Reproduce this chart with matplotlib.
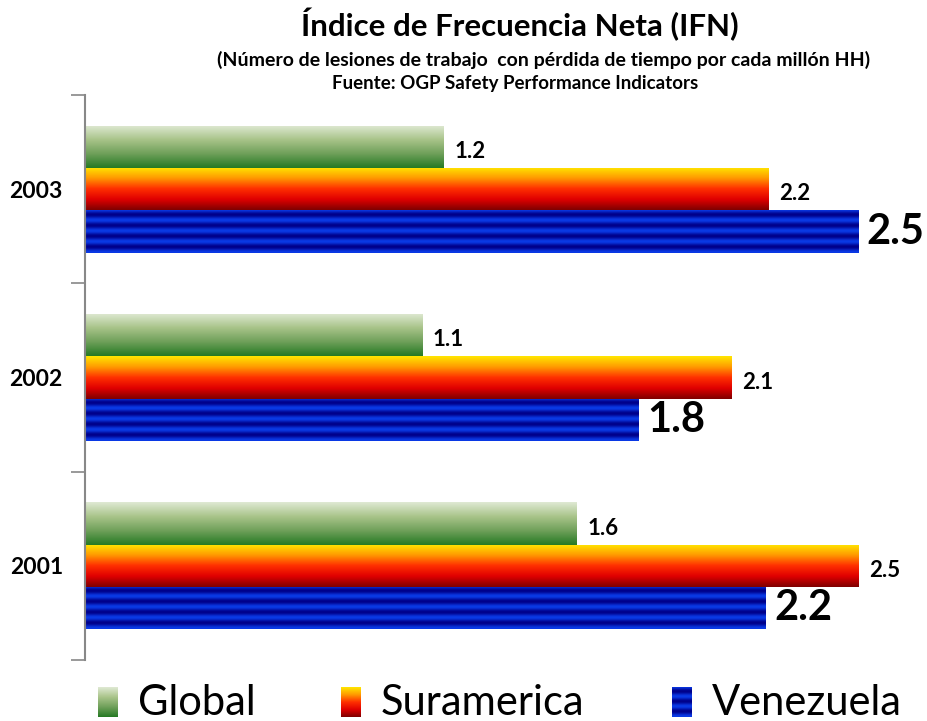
import numpy as np
import matplotlib.pyplot as plt
from matplotlib.colors import LinearSegmentedColormap

# datos (IFN)
years = ['2001', '2002', '2003']
global_vals = [1.59, 1.09, 1.16]
suram_vals = [2.50, 2.09, 2.21]
venez_vals = [2.20, 1.79, 2.50]
series_names = ['Global', 'Suramerica', 'Venezuela']

plt.rcParams['font.family'] = ['Lato', 'DejaVu Sans']

# gradientes de relleno
cm_green = LinearSegmentedColormap.from_list(
    'g', ['#dfe9d3', '#a9c48a', '#6fa05a', '#267a24'])
cm_red = LinearSegmentedColormap.from_list(
    'r', ['#ffe600', '#ff9a00', '#ff3000', '#e00000', '#800000'])
cm_blue = LinearSegmentedColormap.from_list('b', ['#00008a', '#0a3ae6'])

def grad(n=100):
    return np.linspace(0, 1, n).reshape(-1, 1)

def stripes(n=200, k=4):
    t = np.linspace(0, 1, n)
    return (0.5 + 0.5 * np.cos(2 * np.pi * k * t + np.pi * 0.15)).reshape(-1, 1)

fills = [(cm_green, grad()), (cm_red, grad()), (cm_blue, stripes())]

fig = plt.figure(figsize=(9.27, 7.21), dpi=100)
ax = fig.add_axes([85 / 927, 1 - 660 / 721, (858 - 85) / 927, (660 - 95) / 721])

h = 0.225
y = np.arange(len(years))
offsets = [h, 0, -h]
allvals = [global_vals, suram_vals, venez_vals]

for s, vals in enumerate(allvals):
    cmap, img = fills[s]
    for i, v in enumerate(vals):
        yc = y[i] + offsets[s]
        bar = ax.barh(yc, v, height=h, color='none', edgecolor='none')[0]
        im = ax.imshow(img, cmap=cmap, aspect='auto', interpolation='bilinear',
                       extent=(0, v, yc - h / 2, yc + h / 2), origin='upper')
        im.set_clip_path(bar)
        if s < 2:
            ax.text(v + 0.035, yc - 0.025, f'{v:.1f}', va='center', ha='left',
                    fontsize=16, fontweight='bold', clip_on=False)
        else:
            ax.text(v + 0.028, yc, f'{v:.1f}', va='center', ha='left',
                    fontsize=30, fontweight='bold', clip_on=False)

ax.set_xlim(0, 2.5)
ax.set_ylim(-0.5, 2.5)
ax.set_xticks([])
ax.set_yticks(np.arange(-0.5, 3, 1))
ax.set_yticklabels([])
ax.set_yticks(y, minor=True)
ax.set_yticklabels(years, minor=True, fontsize=16.5, fontweight='bold')
ax.tick_params(axis='y', which='minor', length=0, pad=16)
ax.tick_params(axis='y', which='major', length=10, color='#888888', width=1.2)
for sp in ['top', 'right', 'bottom']:
    ax.spines[sp].set_visible(False)
ax.spines['left'].set_color('#888888')
ax.spines['left'].set_linewidth(1.5)

fig.text(520 / 927, 1 - 24 / 721, 'Índice de Frecuencia Neta (IFN)',
         ha='center', va='center', fontsize=22.5, fontweight='bold')
fig.text(544 / 927, 1 - 60 / 721,
         '(Número de lesiones de trabajo  con pérdida de tiempo por cada millón HH)',
         ha='center', va='center', fontsize=14, fontweight='bold')
fig.text(515 / 927, 1 - 83 / 721, 'Fuente: OGP Safety Performance Indicators',
         ha='center', va='center', fontsize=13.5, fontweight='bold')

# leyenda dibujada a mano con los mismos rellenos
leg_x = [98, 341, 672]
for s, name in enumerate(series_names):
    cmap, img = fills[s]
    lax = fig.add_axes([leg_x[s] / 927, 1 - 717 / 721, 20 / 927, 30 / 721])
    if s == 2:
        img = stripes(k=3)
    lax.imshow(img, cmap=cmap, aspect='auto', interpolation='bilinear')
    lax.axis('off')
    fig.text((leg_x[s] + 40) / 927, 1 - 703 / 721, name, ha='left',
             va='center', fontsize=30)

fig.savefig('out.png', dpi=100)
